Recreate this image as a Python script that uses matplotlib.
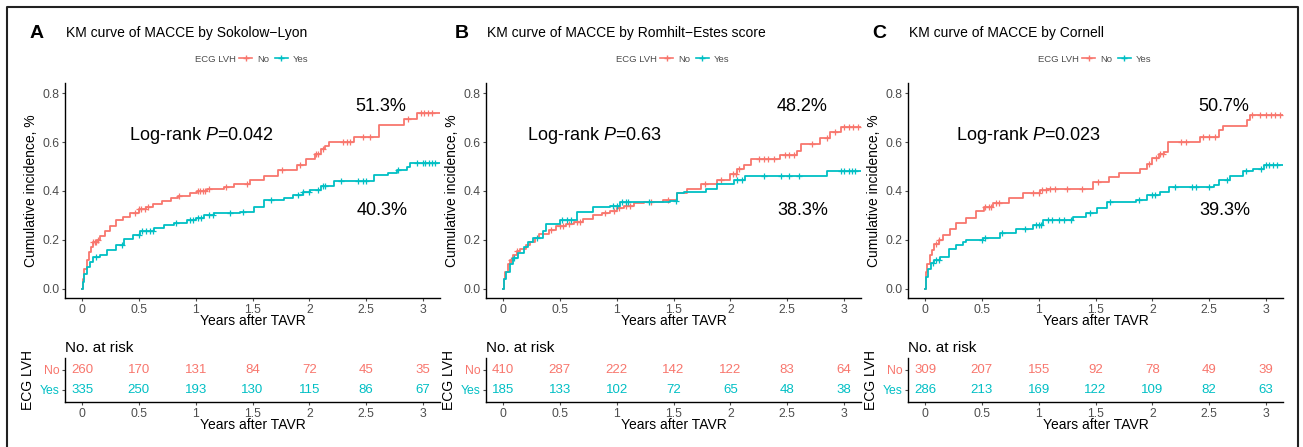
import matplotlib
matplotlib.use('Agg')
import matplotlib.pyplot as plt
from matplotlib.lines import Line2D
import numpy as np

plt.rcParams['font.family'] = ['Liberation Sans', 'DejaVu Sans']
plt.rcParams['mathtext.fontset'] = 'custom'
plt.rcParams['mathtext.rm'] = 'Liberation Sans'
plt.rcParams['mathtext.it'] = 'Liberation Sans:italic'

RED = '#F8766D'
TEAL = '#00BFC4'
GRAY = '#4D4D4D'

# ---- data ----
panel_letters = ['A', 'B', 'C']
panel_titles = ['KM curve of MACCE by Sokolow\u2212Lyon',
                'KM curve of MACCE by Romhilt\u2212Estes score',
                'KM curve of MACCE by Cornell']
logrank_p = ['0.042', '0.63', '0.023']
pct_no = ['51.3%', '48.2%', '50.7%']
pct_yes = ['40.3%', '38.3%', '39.3%']
follow_up_end = 3.15

risk_times = [0, 0.5, 1, 1.5, 2, 2.5, 3]
risk_no = [[260, 170, 131, 84, 72, 45, 35],
           [410, 287, 222, 142, 122, 83, 64],
           [309, 207, 155, 92, 78, 49, 39]]
risk_yes = [[335, 250, 193, 130, 115, 86, 67],
            [185, 133, 102, 72, 65, 48, 38],
            [286, 213, 169, 122, 109, 82, 63]]

# step curves: time of each event step and cumulative incidence after it
a_no_t = [0, 0.01, 0.02, 0.04, 0.06, 0.08, 0.1, 0.13, 0.16, 0.2, 0.25, 0.3, 0.36, 0.42,
          0.5, 0.56, 0.62, 0.7, 0.78, 0.84, 0.95, 1.01, 1.1, 1.25, 1.34, 1.48, 1.6, 1.72,
          1.89, 1.97, 2.05, 2.1, 2.14, 2.17, 2.39, 2.61, 2.83, 2.95]
a_no_v = [0, 0.04, 0.08, 0.12, 0.15, 0.17, 0.19, 0.2, 0.215, 0.235, 0.255, 0.28, 0.295, 0.31,
          0.325, 0.335, 0.345, 0.36, 0.37, 0.38, 0.39, 0.40, 0.41, 0.415, 0.43, 0.445, 0.46, 0.485,
          0.505, 0.53, 0.55, 0.57, 0.585, 0.60, 0.62, 0.67, 0.695, 0.72]
a_yes_t = [0, 0.01, 0.02, 0.04, 0.07, 0.1, 0.16, 0.22, 0.3, 0.37, 0.45, 0.51, 0.63, 0.72,
           0.81, 0.92, 1.0, 1.07, 1.16, 1.39, 1.51, 1.6, 1.78, 1.86, 1.94, 2.01, 2.1, 2.22,
           2.57, 2.69, 2.77, 2.86, 2.89]
a_yes_v = [0, 0.03, 0.06, 0.09, 0.11, 0.13, 0.14, 0.16, 0.18, 0.205, 0.22, 0.235, 0.25, 0.26,
           0.27, 0.28, 0.29, 0.30, 0.31, 0.315, 0.335, 0.365, 0.37, 0.385, 0.395, 0.405, 0.42, 0.44,
           0.465, 0.475, 0.485, 0.50, 0.515]

b_no_t = [0, 0.01, 0.02, 0.04, 0.06, 0.09, 0.12, 0.15, 0.2, 0.24, 0.28, 0.32, 0.4, 0.47,
          0.55, 0.62, 0.7, 0.79, 0.87, 0.94, 1.0, 1.06, 1.15, 1.24, 1.41, 1.53, 1.62, 1.74,
          1.88, 2.0, 2.06, 2.12, 2.18, 2.44, 2.59, 2.62, 2.79, 2.88, 2.97]
b_no_v = [0, 0.04, 0.07, 0.1, 0.12, 0.14, 0.155, 0.165, 0.18, 0.19, 0.21, 0.225, 0.24, 0.255,
          0.265, 0.275, 0.285, 0.30, 0.31, 0.32, 0.33, 0.34, 0.35, 0.355, 0.365, 0.39, 0.41, 0.43,
          0.445, 0.47, 0.49, 0.505, 0.53, 0.545, 0.565, 0.59, 0.615, 0.64, 0.66]
b_yes_t = [0, 0.01, 0.03, 0.06, 0.09, 0.13, 0.18, 0.22, 0.26, 0.35, 0.38, 0.5, 0.65, 0.79,
           0.94, 1.03, 1.47, 1.53, 1.59, 1.79, 1.88, 2.03, 2.13, 2.85]
b_yes_v = [0, 0.04, 0.07, 0.1, 0.125, 0.145, 0.17, 0.19, 0.21, 0.235, 0.265, 0.28, 0.315, 0.333,
           0.34, 0.355, 0.36, 0.39, 0.395, 0.41, 0.43, 0.445, 0.46, 0.48]

c_no_t = [0, 0.005, 0.01, 0.02, 0.04, 0.06, 0.08, 0.12, 0.16, 0.22, 0.27, 0.36, 0.45, 0.52,
          0.6, 0.74, 0.86, 1.01, 1.07, 1.48, 1.62, 1.71, 1.89, 1.95, 2.0, 2.06, 2.1, 2.14,
          2.42, 2.59, 2.62, 2.83, 2.86]
c_no_v = [0, 0.04, 0.07, 0.1, 0.14, 0.16, 0.185, 0.2, 0.22, 0.245, 0.27, 0.29, 0.32, 0.335,
          0.35, 0.37, 0.39, 0.405, 0.41, 0.437, 0.457, 0.475, 0.49, 0.51, 0.533, 0.55, 0.56, 0.60,
          0.62, 0.648, 0.665, 0.69, 0.71]
c_yes_t = [0, 0.01, 0.03, 0.05, 0.08, 0.13, 0.21, 0.27, 0.33, 0.36, 0.51, 0.66, 0.8, 0.95,
           1.04, 1.3, 1.42, 1.51, 1.6, 1.86, 1.95, 2.07, 2.15, 2.54, 2.59, 2.68, 2.8, 2.89, 2.98]
c_yes_v = [0, 0.05, 0.08, 0.105, 0.12, 0.13, 0.165, 0.18, 0.19, 0.2, 0.21, 0.23, 0.245, 0.26,
           0.28, 0.295, 0.31, 0.33, 0.355, 0.365, 0.385, 0.395, 0.415, 0.425, 0.445, 0.46, 0.48,
           0.49, 0.505]

# censoring times (+ marks)
a_no_cens = [0.1, 0.11, 0.12, 0.14, 0.47, 0.5, 0.52, 0.55, 0.58, 0.85, 1.02, 1.04, 1.06, 1.08,
             1.12, 1.27, 1.45, 1.76, 1.92, 2.06, 2.08, 2.12, 2.3, 2.33, 2.36, 2.47, 2.53, 2.87,
             2.98, 3.01, 3.04, 3.08]
a_yes_cens = [0.12, 0.35, 0.5, 0.53, 0.56, 0.6, 0.62, 0.83, 0.95, 0.98, 1.02, 1.05, 1.12, 1.15,
              1.3, 1.42, 1.66, 1.9, 1.94, 2.0, 2.08, 2.12, 2.14, 2.28, 2.43, 2.47, 2.5, 2.78,
              2.95, 3.0, 3.02, 3.05, 3.08, 3.11]
b_no_cens = [0.07, 0.12, 0.42, 0.5, 0.53, 0.58, 0.65, 0.68, 0.9, 0.98, 1.02, 1.08, 1.12, 1.3,
             1.45, 1.78, 1.92, 2.02, 2.05, 2.08, 2.25, 2.3, 2.33, 2.38, 2.48, 2.52, 2.56, 2.72,
             2.85, 2.92, 3.0, 3.04, 3.08, 3.12]
b_yes_cens = [0.1, 0.3, 0.52, 0.56, 0.6, 0.97, 1.0, 1.05, 1.08, 1.1, 1.28, 1.52, 2.06, 2.1,
              2.3, 2.45, 2.52, 2.6, 2.97, 3.0, 3.04, 3.07, 3.1]
c_no_cens = [0.1, 0.12, 0.53, 0.56, 0.58, 0.62, 0.65, 0.95, 1.0, 1.03, 1.06, 1.1, 1.14, 1.25,
             1.38, 1.52, 1.97, 2.03, 2.07, 2.09, 2.25, 2.3, 2.45, 2.5, 2.55, 2.88, 2.95, 3.0,
             3.04, 3.08, 3.12]
c_yes_cens = [0.07, 0.1, 0.12, 0.5, 0.53, 0.68, 0.88, 0.98, 1.0, 1.02, 1.08, 1.12, 1.18, 1.22,
              1.28, 1.45, 1.63, 1.88, 2.0, 2.02, 2.2, 2.35, 2.38, 2.5, 2.66, 2.82, 2.96, 3.0,
              3.03, 3.06, 3.1]

curves_no = [(a_no_t, a_no_v, a_no_cens), (b_no_t, b_no_v, b_no_cens), (c_no_t, c_no_v, c_no_cens)]
curves_yes = [(a_yes_t, a_yes_v, a_yes_cens), (b_yes_t, b_yes_v, b_yes_cens),
              (c_yes_t, c_yes_v, c_yes_cens)]

# ---- layout in pixels ----
W, H = 1303, 447
fig = plt.figure(figsize=(W / 100, H / 100), dpi=100)

panel_left = [65, 486, 908]
ax_w = 375
letter_x = [37, 462, 879]
XLIM = (-0.15, 3.15)
xtick_labels = ['0', '0.5', '1', '1.5', '2', '2.5', '3']


def px_rect(left, top, width, height):
    return [left / W, 1 - (top + height) / H, width / W, height / H]


def style_axis(ax):
    for s in ['top', 'right']:
        ax.spines[s].set_visible(False)
    for s in ['left', 'bottom']:
        ax.spines[s].set_linewidth(1.0)
        ax.spines[s].set_color('black')
    ax.tick_params(length=2.5, width=0.8, color=GRAY, labelcolor=GRAY, labelsize=8.8, pad=1.5)


def draw_curve(ax, times, vals, cens, color):
    t = list(times) + [follow_up_end]
    v = list(vals) + [vals[-1]]
    ax.step(t, v, where='post', color=color, lw=1.3)
    ct = np.array(cens)
    idx = np.searchsorted(np.array(times), ct, side='right') - 1
    cv = np.array(vals)[idx]
    ax.plot(ct, cv, ls='none', marker='+', ms=4.5, mew=0.9, color=color)


for i in range(3):
    left = panel_left[i]
    ax = fig.add_axes(px_rect(left, 83, ax_w, 215))
    style_axis(ax)
    draw_curve(ax, *curves_no[i], RED)
    draw_curve(ax, *curves_yes[i], TEAL)
    ax.set_xlim(*XLIM)
    ax.set_ylim(-0.037, 0.841)
    ax.set_xticks(risk_times)
    ax.set_xticklabels(xtick_labels)
    ax.set_yticks([0, 0.2, 0.4, 0.6, 0.8])
    ax.set_yticklabels(['0.0', '0.2', '0.4', '0.6', '0.8'])
    ax.set_xlabel('Years after TAVR', fontsize=10, labelpad=-1)
    ax.set_ylabel('Cumulative incidence, %', fontsize=10, labelpad=3)

    ax.text([0.41, 0.21, 0.27][i], 0.625, 'Log-rank $P$=' + logrank_p[i],
            fontsize=13, ha='left', va='center')
    ax.text(2.63, 0.745, pct_no[i], fontsize=13, ha='center', va='center')
    ax.text(2.64, 0.322, pct_yes[i], fontsize=13, ha='center', va='center')

    # panel letter and title
    fig.text(letter_x[i] / W, 1 - 33 / H, panel_letters[i], fontsize=14,
             fontweight='bold', ha='center', va='center')
    fig.text((left + 1) / W, 1 - 33 / H, panel_titles[i], fontsize=10,
             ha='left', va='center')

    # legend
    fig.text((left + 130) / W, 1 - 59 / H, 'ECG LVH', fontsize=6.8, color=GRAY,
             ha='left', va='center')
    handles = [Line2D([], [], color=RED, lw=1.2, marker='+', ms=4.5),
               Line2D([], [], color=TEAL, lw=1.2, marker='+', ms=4.5)]
    fig.legend(handles, ['No', 'Yes'], ncol=2, frameon=False, fontsize=6.8,
               loc='center left', bbox_to_anchor=((left + 174) / W, 1 - 59 / H),
               handlelength=1.4, handletextpad=0.5, columnspacing=0.6,
               borderpad=0, borderaxespad=0, labelcolor=GRAY)

    # risk table
    rax = fig.add_axes(px_rect(left, 358, ax_w, 44))
    style_axis(rax)
    rax.set_xlim(*XLIM)
    rax.set_ylim(-0.6, 1.6)
    for t, n_no, n_yes in zip(risk_times, risk_no[i], risk_yes[i]):
        rax.text(t, 1, str(n_no), color=RED, fontsize=9.5, ha='center', va='center')
        rax.text(t, 0, str(n_yes), color=TEAL, fontsize=9.5, ha='center', va='center')
    rax.set_xticks(risk_times)
    rax.set_xticklabels(xtick_labels)
    rax.set_yticks([1, 0])
    rax.set_yticklabels(['No', 'Yes'], fontsize=8.8)
    rax.get_yticklabels()[0].set_color(RED)
    rax.get_yticklabels()[1].set_color(TEAL)
    rax.set_xlabel('Years after TAVR', fontsize=10, labelpad=-1)
    rax.set_ylabel('ECG LVH', fontsize=10, labelpad=3)
    rax.set_title('No. at risk', fontsize=11, loc='left', pad=4)

# outer frame (left, top, right)
fig.add_artist(Line2D([7 / W, 7 / W, 1298 / W, 1298 / W],
                      [0, 1 - 7 / H, 1 - 7 / H, 0], color='#222222', lw=1.5))

fig.savefig('out.png', dpi=100)
